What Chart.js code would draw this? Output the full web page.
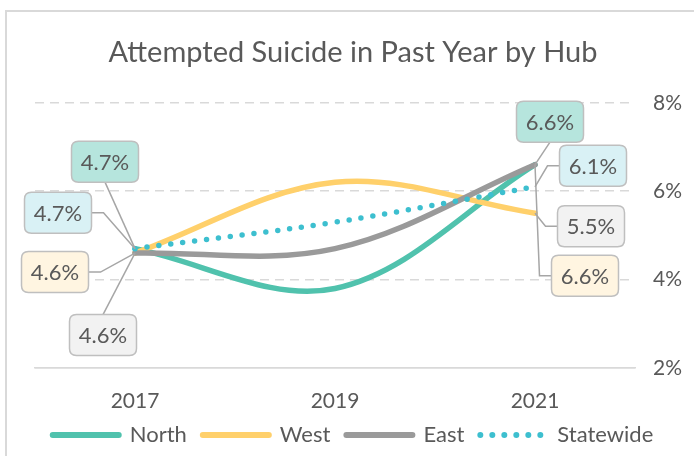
<!DOCTYPE html>
<html>
<head>
<meta charset="utf-8">
<script src="https://cdn.jsdelivr.net/npm/chart.js@4.4.1/dist/chart.umd.min.js"></script>
<style>
  html, body { margin: 0; padding: 0; background: #fff; width: 694px; height: 456px; overflow: hidden; }
  #frame { position: absolute; left: 5px; top: 10px; width: 692px; height: 452px; border: 2px solid #d9d9d9; }
  canvas { display: block; }
</style>
</head>
<body>
<div id="frame"><canvas id="chart" width="692" height="444"></canvas></div>
<script>
// values
const years = ["2017", "2019", "2021"];
const north = [4.7, 3.8, 6.6];
const west = [4.6, 6.2, 5.5];
const east = [4.6, 4.7, 6.6];
const statewide = [4.7, 5.3, 6.1];
const yTicks = [2, 4, 6, 8];

const TEXT = "#595959";
const FONT = "Lato, 'Open Sans', sans-serif";

const colors = {
  north: "#50c2ad",
  west: "#ffd06b",
  east: "#9a9a9a",
  statewide: "#3dbfcf",
};
const boxFill = {
  teal: "#b6e5dd",
  cyan: "#d9f1f5",
  yellow: "#fff5e1",
  grey: "#f2f2f2",
};

// callout boxes: dataset index, point index, offset of box centre from the point
const callouts = [
  { ds: 0, i: 0, dx: -30, dy: -87, fill: boxFill.teal, anchor: "bottom" },
  { ds: 3, i: 0, dx: -77, dy: -36, fill: boxFill.cyan, anchor: "right" },
  { ds: 1, i: 0, dx: -80, dy: 19, fill: boxFill.yellow, anchor: "right" },
  { ds: 2, i: 0, dx: -32, dy: 82, fill: boxFill.grey, anchor: "top" },
  { ds: 0, i: 2, dx: 15, dy: -43, fill: boxFill.teal, anchor: "bottom" },
  { ds: 3, i: 2, dx: 58, dy: -21, fill: boxFill.cyan, anchor: "left" },
  { ds: 1, i: 2, dx: 56, dy: 13, fill: boxFill.grey, anchor: "left" },
  { ds: 2, i: 2, dx: 50, dy: 111, fill: boxFill.yellow, anchor: "left" },
];

function roundRect(ctx, x, y, w, h, r) {
  ctx.beginPath();
  ctx.moveTo(x + r, y);
  ctx.lineTo(x + w - r, y);
  ctx.quadraticCurveTo(x + w, y, x + w, y + r);
  ctx.lineTo(x + w, y + h - r);
  ctx.quadraticCurveTo(x + w, y + h, x + w - r, y + h);
  ctx.lineTo(x + r, y + h);
  ctx.quadraticCurveTo(x, y + h, x, y + h - r);
  ctx.lineTo(x, y + r);
  ctx.quadraticCurveTo(x, y, x + r, y);
  ctx.closePath();
}

const calloutPlugin = {
  id: "callouts",
  afterDatasetsDraw(chart) {
    const ctx = chart.ctx;
    const w = 67, h = 41, stub = 12;
    ctx.save();
    callouts.forEach(c => {
      const pt = chart.getDatasetMeta(c.ds).data[c.i];
      const value = chart.data.datasets[c.ds].data[c.i];
      const cx = pt.x + c.dx, cy = pt.y + c.dy;

      // leader line
      ctx.beginPath();
      ctx.strokeStyle = "#a6a6a6";
      ctx.lineWidth = 1.5;
      if (c.anchor === "bottom") {
        ctx.moveTo(cx, cy + h / 2);
      } else if (c.anchor === "top") {
        ctx.moveTo(cx, cy - h / 2);
      } else if (c.anchor === "right") {
        ctx.moveTo(cx + w / 2, cy);
        ctx.lineTo(cx + w / 2 + stub, cy);
      } else {
        ctx.moveTo(cx - w / 2, cy);
        ctx.lineTo(cx - w / 2 - stub, cy);
      }
      ctx.lineTo(pt.x, pt.y);
      ctx.stroke();

      // box
      roundRect(ctx, cx - w / 2, cy - h / 2, w, h, 7);
      ctx.fillStyle = c.fill;
      ctx.fill();
      ctx.strokeStyle = "#bfbfbf";
      ctx.lineWidth = 1.5;
      ctx.stroke();

      ctx.fillStyle = TEXT;
      ctx.font = "22px " + FONT;
      ctx.textAlign = "center";
      ctx.textBaseline = "middle";
      ctx.fillText(value.toFixed(1) + "%", cx, cy + 1);
    });
    ctx.restore();
  }
};

const lineStyle = {
  yAxisID: "y", borderWidth: 5.5, pointRadius: 0, tension: 0.35,
  borderCapStyle: "round", fill: false
};

new Chart(document.getElementById("chart"), {
  type: "line",
  data: {
    labels: years,
    datasets: [
      { label: "North", data: north, borderColor: colors.north, order: 3, ...lineStyle },
      { label: "West", data: west, borderColor: colors.west, order: 2, ...lineStyle },
      { label: "East", data: east, borderColor: colors.east, order: 1, ...lineStyle },
      { label: "Statewide", data: statewide, borderColor: colors.statewide, order: 0, ...lineStyle,
        borderDash: [0, 12] },
    ]
  },
  options: {
    responsive: false,
    animation: false,
    layout: { padding: 0 },
    plugins: {
      title: {
        display: true,
        text: "Attempted Suicide in Past Year by Hub",
        color: TEXT,
        font: { family: FONT, size: 29, weight: "normal" },
        padding: { top: 23, bottom: 33 }
      },
      legend: {
        position: "bottom",
        labels: {
          color: TEXT,
          font: { family: FONT, size: 22 },
          usePointStyle: true,
          pointStyleWidth: 66,
          padding: 16,
          generateLabels(chart) {
            return chart.data.datasets.map((d, i) => ({
              text: d.label,
              datasetIndex: i,
              pointStyle: "line",
              strokeStyle: d.borderColor,
              fillStyle: d.borderColor,
              lineWidth: 6,
              lineCap: "round",
              lineDash: d.borderDash || [],
              fontColor: TEXT,
              hidden: false
            }));
          }
        }
      },
      tooltip: { enabled: false }
    },
    scales: {
      y: {
        position: "right",
        min: 2,
        max: 8,
        afterBuildTicks(s) { s.ticks = yTicks.map(v => ({ value: v })); },
        afterFit(s) { s.width = 64; },
        grid: { color: "#d9d9d9", lineWidth: 1.5, drawTicks: false },
        border: { display: false, dash: ctx => (ctx.tick && ctx.tick.value === 2 ? [] : [9, 6]) },
        ticks: {
          color: TEXT,
          font: { family: FONT, size: 21 },
          padding: 18,
          callback: v => v + "%"
        }
      },
      x: {
        offset: true,
        grid: { display: false, drawTicks: false },
        border: { display: true, color: "#d9d9d9", width: 1.5 },
        ticks: { color: TEXT, font: { family: FONT, size: 21 }, padding: 21 },
        afterFit(s) { s.height = 40; }
      },
      yLeft: {
        type: "linear",
        position: "left",
        display: true,
        grid: { display: false, drawTicks: false },
        border: { display: false },
        ticks: { display: false },
        afterFit(s) { s.width = 28; }
      }
    }
  },
  plugins: [calloutPlugin]
});
</script>
</body>
</html>
